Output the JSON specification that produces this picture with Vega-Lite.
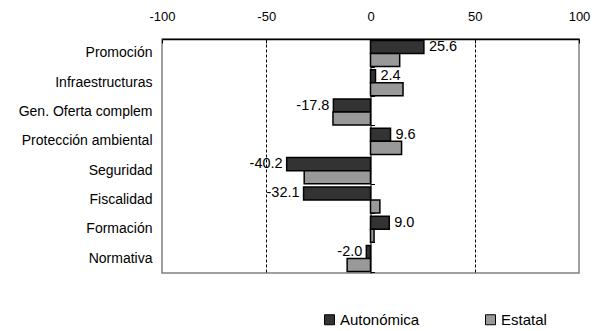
{
  "$schema": "https://vega.github.io/schema/vega-lite/v6.json",
  "width": 417,
  "height": 234,
  "autosize": {"type": "none"},
  "padding": {"left": 162, "top": 39, "right": 18, "bottom": 58},
  "background": "white",
  "config": {
    "font": "Liberation Sans",
    "locale": {"number": {"decimal": ".", "thousands": ",", "grouping": [3], "currency": ["$", ""], "minus": "-"}},
    "view": {"stroke": "#808080", "strokeWidth": 1.5},
    "axis": {"labelColor": "black", "labelFont": "Liberation Sans", "titleFont": "Liberation Sans"},
    "legend": {"labelFont": "Liberation Sans"}
  },
  "data": {
    "values": [
      {"category": "Promoción", "series": "Autonómica", "value": 25.6},
      {"category": "Promoción", "series": "Estatal", "value": 14.0},
      {"category": "Infraestructuras", "series": "Autonómica", "value": 2.4},
      {"category": "Infraestructuras", "series": "Estatal", "value": 15.6},
      {"category": "Gen. Oferta complem", "series": "Autonómica", "value": -17.8},
      {"category": "Gen. Oferta complem", "series": "Estatal", "value": -18.0},
      {"category": "Protección ambiental", "series": "Autonómica", "value": 9.6},
      {"category": "Protección ambiental", "series": "Estatal", "value": 14.9},
      {"category": "Seguridad", "series": "Autonómica", "value": -40.2},
      {"category": "Seguridad", "series": "Estatal", "value": -31.8},
      {"category": "Fiscalidad", "series": "Autonómica", "value": -32.1},
      {"category": "Fiscalidad", "series": "Estatal", "value": 4.5},
      {"category": "Formación", "series": "Autonómica", "value": 9.0},
      {"category": "Formación", "series": "Estatal", "value": 1.7},
      {"category": "Normativa", "series": "Autonómica", "value": -2.0},
      {"category": "Normativa", "series": "Estatal", "value": -11.2}
    ]
  },
  "encoding": {
    "y": {
      "field": "category",
      "type": "nominal",
      "sort": null,
      "scale": {"paddingInner": 0.11, "paddingOuter": 0.05}
    },
    "yOffset": {
      "field": "series",
      "type": "nominal",
      "sort": ["Autonómica", "Estatal"],
      "scale": {"paddingInner": 0, "paddingOuter": 0}
    },
    "x": {
      "field": "value",
      "type": "quantitative",
      "scale": {"domain": [-100, 100], "nice": false, "zero": false},
      "axis": {
        "orient": "top",
        "values": [-100, -50, 0, 50, 100],
        "title": null,
        "domainColor": "black",
        "domainWidth": 1.5,
        "tickColor": "black",
        "tickSize": -4,
        "labelPadding": 20,
        "labelFlush": false,
        "labelFontSize": 13,
        "grid": true,
        "gridColor": "black",
        "gridDash": [3, 2],
        "gridWidth": 1,
        "gridOpacity": {"condition": {"test": "abs(datum.value) == 50", "value": 1}, "value": 0}
      }
    }
  },
  "layer": [
    {
      "mark": {"type": "bar", "stroke": "black", "strokeWidth": 1.5},
      "encoding": {
        "y": {
          "field": "category",
          "type": "nominal",
          "sort": null,
          "axis": {
            "orient": "left",
            "title": null,
            "domain": false,
            "ticks": false,
            "labelPadding": 10,
            "labelFontSize": 14,
            "labelColor": "black"
          }
        },
        "color": {
          "field": "series",
          "type": "nominal",
          "sort": ["Autonómica", "Estatal"],
          "scale": {"domain": ["Autonómica", "Estatal"], "range": ["#333333", "#999999"]},
          "legend": {
            "title": null,
            "orient": "none",
            "direction": "horizontal",
            "legendX": 160,
            "legendY": 273,
            "symbolType": "square",
            "symbolSize": 100,
            "symbolStrokeColor": "black",
            "symbolStrokeWidth": 1,
            "symbolOpacity": 1,
            "labelFontSize": 15,
            "labelColor": "black",
            "labelOffset": 3,
            "columnPadding": 63
          }
        }
      }
    },
    {
      "transform": [{"filter": "datum.series == 'Autonómica' && datum.value >= 0"}],
      "mark": {"type": "text", "align": "left", "dx": 5, "fontSize": 14.5, "color": "black", "baseline": "middle"},
      "encoding": {
        "text": {"field": "value", "type": "quantitative", "format": ".1f"},
        "y": {
          "field": "category",
          "type": "nominal",
          "sort": null,
          "axis": {
            "orient": "right",
            "offset": -208.5,
            "title": null,
            "labels": false,
            "domain": true,
            "domainColor": "black",
            "ticks": true,
            "tickBand": "extent",
            "tickColor": "black",
            "tickSize": 4
          }
        }
      }
    },
    {
      "transform": [{"filter": "datum.series == 'Autonómica' && datum.value < 0"}],
      "mark": {"type": "text", "align": "right", "dx": -4, "fontSize": 14.5, "color": "black", "baseline": "middle"},
      "encoding": {
        "text": {"field": "value", "type": "quantitative", "format": ".1f"},
        "y": {"field": "category", "type": "nominal", "sort": null, "axis": null}
      }
    }
  ],
  "resolve": {"axis": {"y": "independent"}}
}
